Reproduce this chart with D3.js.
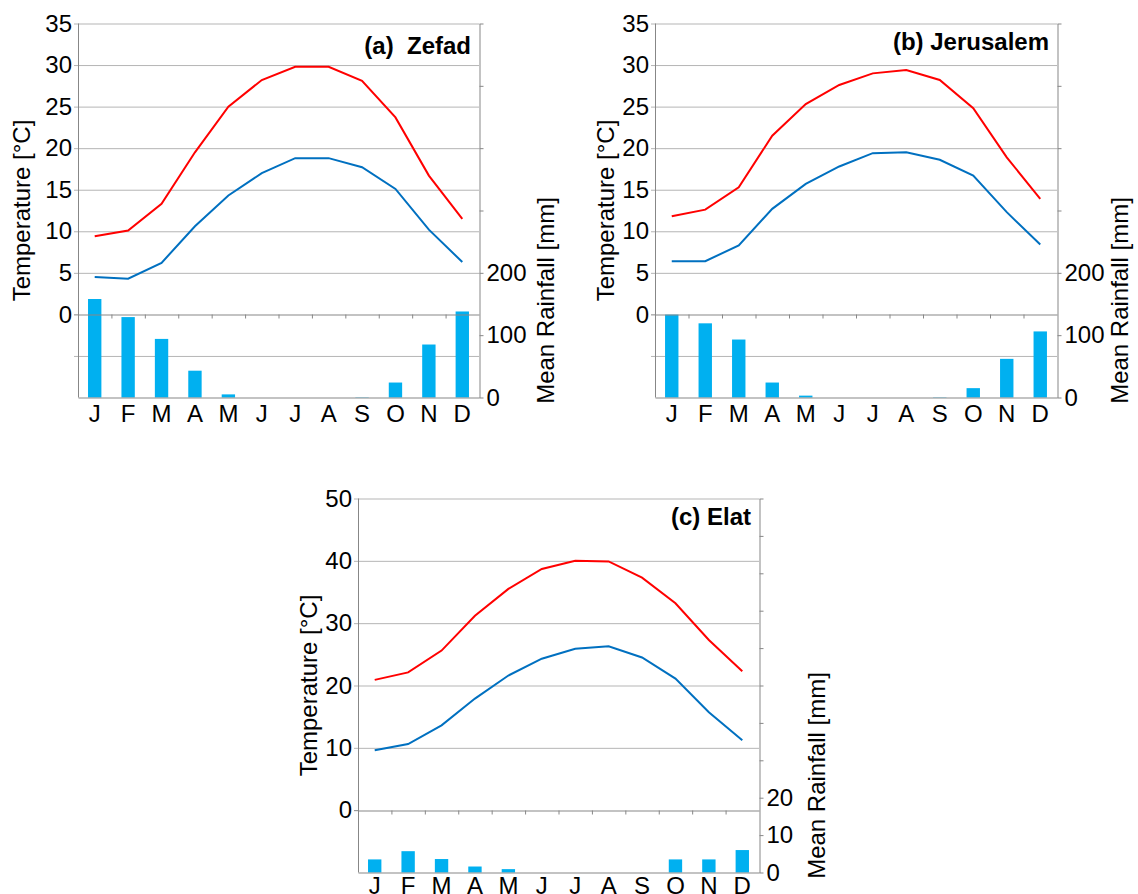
<!DOCTYPE html>
<html>
<head>
<meta charset="utf-8">
<script src="https://cdn.jsdelivr.net/npm/d3@7"></script>
<style>
  body { margin: 0; background: #fff; }
  svg text { font-family: "Liberation Sans", Arial, sans-serif; fill: #000; }
</style>
</head>
<body>
<svg id="chart" width="1138" height="894"></svg>
<script>
// Month initials for the category axis
const months = ["J", "F", "M", "A", "M", "J", "J", "A", "S", "O", "N", "D"];

// Zefad: mean daily max / min temperature [°C] and mean rainfall [mm]
const zefadMax  = [9.4, 10.1, 13.3, 19.5, 25.0, 28.2, 29.8, 29.8, 28.1, 23.7, 16.7, 11.5];
const zefadMin  = [4.5, 4.3, 6.2, 10.6, 14.3, 17.0, 18.8, 18.8, 17.7, 15.1, 10.2, 6.3];
const zefadRain = [158, 129, 94, 43, 5, 0, 0, 0, 0.5, 24, 85, 138];

// Jerusalem
const jerusalemMax  = [11.8, 12.6, 15.3, 21.5, 25.3, 27.6, 29.0, 29.4, 28.2, 24.8, 18.9, 13.9];
const jerusalemMin  = [6.4, 6.4, 8.3, 12.7, 15.7, 17.8, 19.4, 19.5, 18.6, 16.7, 12.3, 8.4];
const jerusalemRain = [133, 119, 93, 24, 3, 0, 0, 0, 0.5, 15, 62, 106];

// Elat
const elatMax  = [20.9, 22.1, 25.6, 31.2, 35.5, 38.7, 40.0, 39.9, 37.3, 33.2, 27.3, 22.3];
const elatMin  = [9.6, 10.6, 13.6, 17.9, 21.6, 24.3, 25.9, 26.3, 24.5, 21.1, 15.7, 11.2];
const elatRain = [3.5, 5.7, 3.6, 1.6, 0.9, 0, 0, 0, 0, 3.5, 3.5, 6.0];

// Axis ticks and the subset that carries labels
const tempTicksNorth  = [-10, -5, 0, 5, 10, 15, 20, 25, 30, 35];
const tempLabelsNorth = [0, 5, 10, 15, 20, 25, 30, 35];
const rainTicksNorth  = [0, 100, 200, 300, 400, 500, 600];
const rainLabelsNorth = [0, 100, 200];

const tempTicksSouth  = [-10, 0, 10, 20, 30, 40, 50];
const tempLabelsSouth = [0, 10, 20, 30, 40, 50];
const rainTicksSouth  = [0, 10, 20, 30, 40, 50, 60, 70, 80, 90, 100];
const rainLabelsSouth = [0, 10, 20];

const panels = [
  { title: "(a)  Zefad", tmax: zefadMax, tmin: zefadMin, rain: zefadRain,
    tTicks: tempTicksNorth, tLabels: tempLabelsNorth, rTicks: rainTicksNorth, rLabels: rainLabelsNorth,
    left: 78, right: 479, top: 23.5, bottom: 397.5, titleDy: 30, tTitleX: 21.5, rTitleX: 545.5, monthPad: 7 },
  { title: "(b) Jerusalem", tmax: jerusalemMax, tmin: jerusalemMin, rain: jerusalemRain,
    tTicks: tempTicksNorth, tLabels: tempLabelsNorth, rTicks: rainTicksNorth, rLabels: rainLabelsNorth,
    left: 655, right: 1057, top: 23.5, bottom: 397.5, titleDy: 26, tTitleX: 606, rTitleX: 1120, monthPad: 7 },
  { title: "(c) Elat", tmax: elatMax, tmin: elatMin, rain: elatRain,
    tTicks: tempTicksSouth, tLabels: tempLabelsSouth, rTicks: rainTicksSouth, rLabels: rainLabelsSouth,
    left: 358, right: 759, top: 498.5, bottom: 872.5, titleDy: 26, tTitleX: 308.5, rTitleX: 817, monthPad: 4 }
];

const AXIS = "#878787", GRID = "#b5b5b5";
const RED = "#ff0000", BLUE = "#0070c0", BAR = "#00b0f0";
const FONT = 24;

const svg = d3.select("#chart");
svg.append("rect").attr("width", 1138).attr("height", 894).attr("fill", "#fff");

function styleAxisText(g) {
  g.attr("font-size", null).attr("font-family", null);
  g.selectAll("text").style("font-size", FONT + "px");
}

panels.forEach(p => {
  const idx = d3.range(12);
  const tExt = d3.extent(p.tTicks);
  const rExt = d3.extent(p.rTicks);

  const yT = d3.scaleLinear().domain(tExt).range([p.bottom, p.top]);
  const yR = d3.scaleLinear().domain(rExt).range([p.bottom, p.top]);
  const xBand = d3.scaleBand().domain(idx).range([p.left, p.right]).paddingInner(0.6).paddingOuter(0.3);
  const xPt = d3.scalePoint().domain(idx).range([p.left, p.right]).padding(0.5);
  const xEdge = d3.scaleLinear().domain([0, 12]).range([p.left, p.right]);

  const g = svg.append("g");

  // Temperature gridlines with labels on the left
  const gridAx = d3.axisLeft(yT)
    .tickValues(p.tTicks.filter(v => v !== tExt[0] && v !== 0))
    .tickSize(-(p.right - p.left))
    .tickPadding(6)
    .tickFormat(v => p.tLabels.includes(v) ? v : "");
  const gg = g.append("g").attr("transform", `translate(${p.left},0)`).call(gridAx);
  gg.select(".domain").remove();
  gg.selectAll("line").attr("stroke", GRID).attr("x1", -4);
  styleAxisText(gg);

  // Zero label (drawn with the darker zero line below)
  const zAx = d3.axisLeft(yT).tickValues([0]).tickSize(4).tickPadding(2).tickFormat(d3.format("d"));
  const zg = g.append("g").attr("transform", `translate(${p.left},0)`).call(zAx);
  zg.select(".domain").remove();
  zg.selectAll("line").attr("stroke", AXIS);
  styleAxisText(zg);

  // Rainfall bars
  g.append("g").selectAll("rect").data(p.rain).join("rect")
    .attr("x", (d, i) => xBand(i))
    .attr("width", xBand.bandwidth())
    .attr("y", d => yR(d))
    .attr("height", d => yR(0) - yR(d))
    .attr("fill", BAR);

  // Zero line with short category-boundary ticks
  const edgeAx = d3.axisBottom(xEdge).tickValues(d3.range(1, 12)).tickSize(4).tickSizeOuter(0).tickFormat("");
  const eg = g.append("g").attr("transform", `translate(0,${Math.round(yT(0)) + 0.5})`).call(edgeAx);
  eg.selectAll("path, line").attr("stroke", AXIS);

  // Left axis line
  g.append("line").attr("x1", p.left + 0.5).attr("x2", p.left + 0.5)
    .attr("y1", p.top).attr("y2", p.bottom).attr("stroke", AXIS);

  // Bottom axis with month initials
  const bAx = d3.axisBottom(xBand).tickSize(0).tickPadding(p.monthPad).tickFormat(i => months[i]);
  const bg = g.append("g").attr("transform", `translate(0,${p.bottom})`).call(bAx);
  bg.select(".domain").attr("stroke", AXIS);
  styleAxisText(bg);

  // Rainfall axis on the right
  const rAx = d3.axisRight(yR).tickValues(p.rTicks).tickSize(4).tickSizeOuter(0).tickPadding(3)
    .tickFormat(v => p.rLabels.includes(v) ? v : "");
  const rg = g.append("g").attr("transform", `translate(${p.right + 0.5},0)`).call(rAx);
  rg.selectAll("path, line").attr("stroke", AXIS);
  styleAxisText(rg);

  // Temperature lines
  const line = vals => d3.line().x((d, i) => xPt(i)).y(d => yT(d))(vals);
  g.append("path").attr("d", line(p.tmax)).attr("fill", "none").attr("stroke", RED).attr("stroke-width", 2);
  g.append("path").attr("d", line(p.tmin)).attr("fill", "none").attr("stroke", BLUE).attr("stroke-width", 2);

  // Panel title
  g.append("text")
    .attr("x", p.right - 8).attr("y", p.top + p.titleDy)
    .attr("text-anchor", "end")
    .style("white-space", "pre")
    .style("font-weight", "bold").style("font-size", FONT + "px")
    .text(p.title);

  // Axis titles
  g.append("text")
    .attr("transform", `translate(${p.tTitleX},${(p.top + p.bottom) / 2}) rotate(-90)`)
    .attr("text-anchor", "middle").attr("dy", "0.35em")
    .style("font-size", FONT + "px")
    .text("Temperature [°C]");
  g.append("text")
    .attr("transform", `translate(${p.rTitleX},${(p.top + p.bottom) / 2 + 90}) rotate(-90)`)
    .attr("text-anchor", "middle").attr("dy", "0.35em")
    .style("font-size", FONT + "px")
    .text("Mean Rainfall [mm]");
});
</script>
</body>
</html>
